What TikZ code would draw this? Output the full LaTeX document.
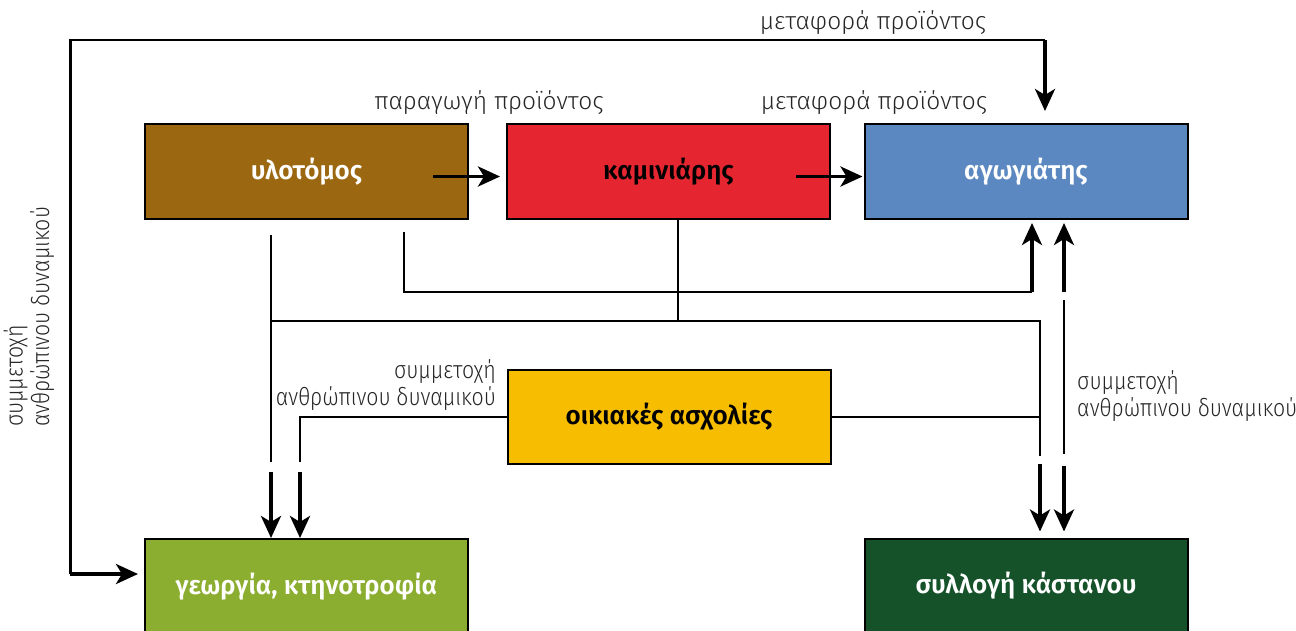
\documentclass[tikz,border=0pt]{standalone}
\usepackage{fontspec}
\setmainfont{Fira Sans}
\newfontfamily\notefont{Fira Sans Light}
\newfontfamily\narrowfont{Fira Sans Light}[FakeStretch=0.87]
\newfontfamily\boxfont{Fira Sans SemiBold}
\usetikzlibrary{arrows.meta, calc}

\definecolor{woodbrown}{HTML}{9C6711}
\definecolor{kilnred}{HTML}{E52630}
\definecolor{muleblue}{HTML}{5B88C1}
\definecolor{houseyellow}{HTML}{F7BD00}
\definecolor{farmgreen}{HTML}{8BAD30}
\definecolor{chestnutgreen}{HTML}{15522A}

\begin{document}
\begin{tikzpicture}[x=1pt, y=-1pt,
  box/.style  = {draw=black, line width=2pt, inner sep=0pt,
                 minimum width=323pt, minimum height=95pt,
                 font=\boxfont\fontsize{26}{30}\selectfont},
  link/.style = {line width=2pt},
  flow/.style = {line width=3.6pt,
                 -{Stealth[length=22pt, width=20pt, inset=6pt]}},
  note/.style = {font=\notefont\fontsize{24.5}{26.5}\selectfont,
                 text=black!85, inner sep=0pt},
  crew/.style = {note, font=\narrowfont\fontsize{24.5}{26.5}\selectfont}
  ]

  % The page: same size as the original drawing

  \useasboundingbox (0,0) rectangle (1296,630);

  % The six activities

  \node[box, fill=woodbrown, text=white]     (ylo) at ( 306.5, 171.5) {υλοτόμος};
  \node[box, fill=kilnred]                   (kam) at ( 668.5, 171.5) {καμινιάρης};
  \node[box, fill=muleblue, text=white]      (agw) at (1026,   171.5) {αγωγιάτης};
  \node[box, fill=houseyellow,
        minimum height=94pt]                 (oik) at ( 669,   417)   {οικιακές ασχολίες};
  \node[box, fill=farmgreen, text=white]     (geo) at ( 306.5, 586.5) {γεωργία, κτηνοτροφία};
  \node[box, fill=chestnutgreen, text=white] (syl) at (1026,   586)   {συλλογή κάστανου};

  % Points where the lines leave or enter the boxes

  \coordinate (yloA)     at ($(ylo.south) + (-35.5, 15)$);
  \coordinate (yloB)     at ($(ylo.south) + ( 97.5, 12)$);
  \coordinate (kamOut)   at ($(kam.south) + (  9.5,  0)$);
  \coordinate (agwIn)    at ($(agw.south) + (  6,    0)$);
  \coordinate (agwRight) at ($(agw.south) + ( 38,    0)$);
  \coordinate (sylIn)    at ($(syl.north) + ( 14,    0)$);
  \coordinate (geoIn)    at ($(geo.north) + ( -6.5,  0)$);

  % Heights of the horizontal runs and of the small breaks
  %   just above the arrow heads

  \coordinate (yloRun) at (0, 292);
  \coordinate (kamRun) at (0, 321);
  \coordinate (gapL)   at (0, 467);
  \coordinate (gapR)   at (0, 460);

  % Upper row: product passed on from box to box

  \draw[flow] ($(ylo.east) + (-36, 5)$) -- ($(kam.west) + (-6, 5)$);
  \draw[flow] ($(kam.east) + (-35, 5)$) -- ($(agw.west) + (-1, 5)$);

  % Outer loop round the whole drawing

  \coordinate (loopL) at (70, 40);
  \coordinate (loopR) at (1045, 40);
  \coordinate (loopB) at (70, 574);

  \draw[link] (loopB) -- (loopL) -- (loopR);
  \draw[link, line width=3pt] (loopL) -- (loopB);
  \draw[flow] (loopR) -- ++(0, 71);
  \draw[flow, shorten >=6pt] (loopB) -- (loopB -| geo.west);

  % Woodcutter down to the farm, and round to the muleteer

  \draw[link, shorten >=5pt] (yloA) -- (yloA |- gapL);
  \draw[flow, shorten <=5pt] (yloA |- gapL) -- (yloA |- geo.north);

  \draw[link] (yloB) |- (agwIn |- yloRun);
  \draw[flow, shorten >=3pt] (agwIn |- yloRun) -- (agwIn);

  % Charcoal burner down to the common run, on to the chestnuts

  \draw[link] (kamOut) -- (kamOut |- kamRun);
  \draw[link, shorten >=4pt] (yloA |- kamRun) -- (sylIn |- kamRun)
    -- (sylIn |- gapR);
  \draw[flow, shorten <=4pt, shorten >=6pt] (sylIn |- gapR) -- (sylIn);

  % Household work to both sides

  \draw[link, shorten >=5pt] (oik.west) -| (geoIn |- gapL);
  \draw[flow, shorten <=5pt] (geoIn |- gapL) -- (geoIn);
  \draw[link] (oik.east) -- (oik.east -| sylIn);

  % Between muleteer and chestnut picking, both ways

  \draw[flow, shorten >=3pt] (agwRight |- yloRun) -- (agwRight);
  \draw[link, shorten <=8pt, shorten >=6pt] (agwRight |- yloRun)
    -- (agwRight |- gapR);
  \draw[flow, shorten <=6pt, shorten >=6pt] (agwRight |- gapR)
    -- (syl.north -| agwRight);

  % Labels of the lines

  \node[note] (topNote)   at (873, 23)  {μεταφορά προϊόντος};
  \node[note] (makeNote)  at (489, 103) {παραγωγή προϊόντος};
  \node[note] (carryNote) at (874, 103) {μεταφορά προϊόντος};

  \node[crew, align=right, anchor=east] (houseNote) at ( 496, 385)
    {συμμετοχή\\ανθρώπινου δυναμικού};
  \node[crew, align=left, anchor=west]  (chestNote) at (1077, 396)
    {συμμετοχή\\ανθρώπινου δυναμικού};
  \node[crew, align=left, anchor=west, rotate=90] (farmNote) at (29, 427)
    {συμμετοχή\\ανθρώπινου δυναμικού};

\end{tikzpicture}
\end{document}
